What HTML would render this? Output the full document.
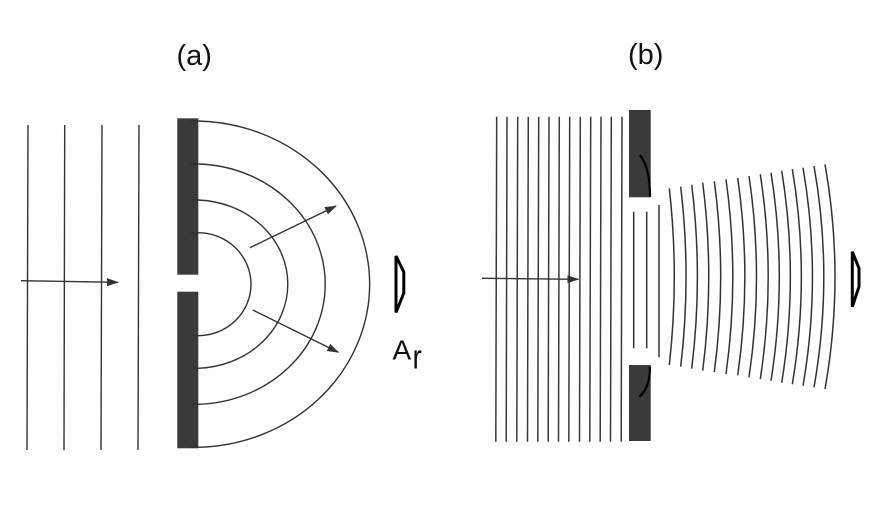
<!DOCTYPE html>
<html>
<head>
<meta charset="utf-8">
<style>
html,body{margin:0;padding:0;background:#fff;}
svg{display:block;}
text{font-family:"Liberation Sans",Arial,sans-serif;fill:#111;}
</style>
</head>
<body>
<svg width="893" height="511" viewBox="0 0 893 511" xmlns="http://www.w3.org/2000/svg">
<defs>
<marker id="ah" viewBox="0 0 12 8" refX="11" refY="4" markerWidth="12" markerHeight="8" markerUnits="userSpaceOnUse" orient="auto">
<path d="M0,0 L12,4 L0,8 Z" fill="#333"/>
</marker>
</defs>

<!-- labels -->
<text x="176.5" y="65" font-size="29">(a)</text>
<text x="628" y="64" font-size="29">(b)</text>

<!-- ===== Panel (a) ===== -->
<g stroke="#333" stroke-width="1.4" fill="none">
<line x1="28" y1="125" x2="27" y2="450"/>
<line x1="64.7" y1="125" x2="64" y2="450"/>
<line x1="102" y1="125" x2="101" y2="450"/>
<line x1="139" y1="125" x2="138" y2="450"/>
</g>
<line x1="21" y1="280.7" x2="118" y2="282.3" stroke="#333" stroke-width="1.4" marker-end="url(#ah)"/>

<rect x="177.3" y="118.3" width="21" height="156.4" fill="#3a3a3a"/>
<rect x="177.3" y="291.7" width="21" height="156.6" fill="#3a3a3a"/>

<g stroke="#333" stroke-width="1.4" fill="none">
<path d="M190,232.7 L198,232.7 A53,51.5 0 0 1 198,335.7 L190,335.7"/>
<path d="M190,200 L198,200 A93,84.2 0 0 1 198,368.3 L190,368.3"/>
<path d="M190,164 L198,164 A131,120.2 0 0 1 198,404.3 L190,404.3"/>
<path d="M190,121 L198,121 A176,163.2 0 0 1 198,447.3 L190,447.3"/>
</g>
<line x1="250" y1="247.7" x2="336" y2="206" stroke="#333" stroke-width="1.4" marker-end="url(#ah)"/>
<line x1="252.7" y1="310" x2="338.3" y2="352.3" stroke="#333" stroke-width="1.4" marker-end="url(#ah)"/>

<path d="M396,256 L396,312.5 L403.8,293 L403.8,272 Z" fill="none" stroke="#000" stroke-width="3" stroke-linejoin="miter"/>

<text x="392.5" y="359.3" font-size="28">A</text>
<text x="0" y="0" font-size="34" transform="translate(412.5 368.3) scale(0.82 1)">r</text>

<!-- ===== Panel (b) ===== -->
<g stroke="#3a3a3a" stroke-width="1.5" fill="none">
<line x1="496.7" y1="116.7" x2="495.8" y2="441.7"/>
<line x1="507" y1="116.7" x2="506.2" y2="441.7"/>
<line x1="517.7" y1="116.7" x2="516.8" y2="441.7"/>
<line x1="528.3" y1="116.7" x2="527.5" y2="441.7"/>
<line x1="538.7" y1="116.7" x2="537.8" y2="441.7"/>
<line x1="549" y1="116.7" x2="548.2" y2="441.7"/>
<line x1="559.3" y1="116.7" x2="558.5" y2="441.7"/>
<line x1="569.7" y1="116.7" x2="568.8" y2="441.7"/>
<line x1="580.3" y1="116.7" x2="579.5" y2="441.7"/>
<line x1="590.7" y1="116.7" x2="589.8" y2="441.7"/>
<line x1="601" y1="116.7" x2="600.2" y2="441.7"/>
<line x1="611.3" y1="116.7" x2="610.5" y2="441.7"/>
<line x1="622" y1="116.7" x2="621.2" y2="441.7"/>
</g>
<line x1="482" y1="278.3" x2="578.3" y2="279.3" stroke="#333" stroke-width="1.4" marker-end="url(#ah)"/>

<rect x="629" y="110" width="21.7" height="87.3" fill="#3a3a3a"/>
<rect x="629" y="365" width="21.7" height="76" fill="#3a3a3a"/>
<path d="M640,155 Q650,168 650,196.7" fill="none" stroke="#000" stroke-width="2.2"/>
<path d="M650,366.7 Q650,388 639.3,396.7" fill="none" stroke="#000" stroke-width="2.2"/>

<g stroke="#333" stroke-width="1.5" fill="none">
<line x1="633.7" y1="211.7" x2="633.7" y2="348.3"/>
<line x1="646.7" y1="211.7" x2="646.7" y2="348.3"/>
<line x1="659" y1="205" x2="659" y2="357.3"/>

<path d="M669.3,188.3 Q679.3,276.7 669.3,365"/>
<path d="M680.7,186.7 Q691.4,276.7 680.7,366.7"/>
<path d="M691.7,184.7 Q703.1,276.7 691.7,368.7"/>
<path d="M702.7,182.7 Q714.8,276.7 702.7,370.7"/>
<path d="M714.3,181.3 Q727.1,276.7 714.3,372"/>
<path d="M726,179.3 Q739.6,276.7 726,374"/>
<path d="M737.7,178 Q752,276.7 737.7,375.3"/>
<path d="M749,176 Q764,276.7 749,377.3"/>
<path d="M760.3,174.3 Q776.1,276.7 760.3,379"/>
<path d="M771,172.7 Q787.6,276.7 771,380.7"/>
<path d="M781.7,170.7 Q799,276.7 781.7,382.7"/>
<path d="M792.3,169 Q810.4,276.7 792.3,384.3"/>
<path d="M803,167.7 Q821.9,276.7 803,385.7"/>
<path d="M814,166 Q833.6,276.7 814,387.3"/>
<path d="M825,164.3 Q845,276.7 825,389"/>
</g>

<path d="M852.3,251.7 L852.3,306.7 L859,286.7 L859,268.3 Z" fill="none" stroke="#000" stroke-width="3" stroke-linejoin="miter"/>
</svg>
</body>
</html>
